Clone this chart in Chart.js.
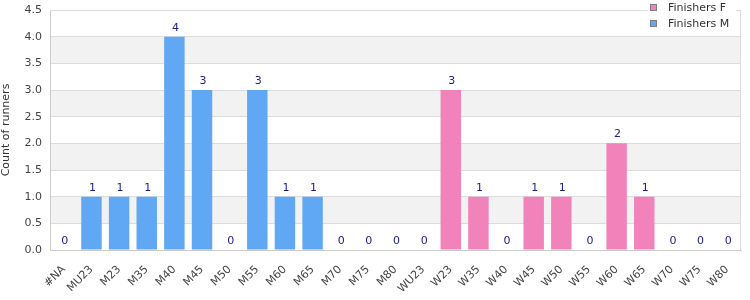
<!DOCTYPE html>
<html lang="en">
  <head>
    <meta charset="UTF-8" />
    <title>Finishers by category</title>
    <script src="https://cdn.jsdelivr.net/npm/chart.js@4"></script>
    <style>
      html, body {
        margin: 0;
        padding: 0;
        background: #fff;
      }
      #wrap {
        width: 750px;
        height: 300px;
      }
    </style>
  </head>
  <body>
    <div id="wrap">
      <canvas id="chart" width="750" height="300"></canvas>
    </div>

    <script>
      const categories = [
        "#NA", "MU23", "M23", "M35", "M40", "M45", "M50", "M55", "M60", "M65",
        "M70", "M75", "M80", "WU23", "W23", "W35", "W40", "W45", "W50", "W55",
        "W60", "W65", "W70", "W75", "W80",
      ];
      const finishersF = [
        0, 0, 0, 0, 0, 0, 0, 0, 0, 0,
        0, 0, 0, 0, 3, 1, 0, 1, 1, 0,
        2, 1, 0, 0, 0,
      ];
      const finishersM = [
        0, 1, 1, 1, 4, 3, 0, 3, 1, 1,
        0, 0, 0, 0, 0, 0, 0, 0, 0, 0,
        0, 0, 0, 0, 0,
      ];
      const yTicks = [0, 0.5, 1, 1.5, 2, 2.5, 3, 3.5, 4, 4.5];

      const pink = "#f282ba";
      const blue = "#60a8f3";
      const font = "'DejaVu Sans', Verdana, sans-serif";

      // grey bands between every other gridline, plus the plot frame
      const bands = {
        id: "bands",
        beforeDraw(chart) {
          const { ctx, chartArea: a, scales } = chart;
          const y = scales.y;
          ctx.save();
          ctx.fillStyle = "#f2f2f2";
          for (let v = 0.5; v < 4.5; v += 1) {
            const y1 = y.getPixelForValue(v + 0.5);
            const y0 = y.getPixelForValue(v);
            ctx.fillRect(a.left, y1, a.right - a.left, y0 - y1);
          }
          ctx.restore();
        },
        afterDraw(chart) {
          const { ctx, chartArea: a } = chart;
          ctx.save();
          ctx.lineWidth = 1;
          ctx.strokeStyle = "#dcdcdc";
          ctx.beginPath();
          ctx.moveTo(a.left, a.top + 0.5);
          ctx.lineTo(a.right, a.top + 0.5);
          ctx.moveTo(a.right - 0.5, a.top);
          ctx.lineTo(a.right - 0.5, a.bottom);
          ctx.stroke();

          // legend box top right
          const lx = 648;
          ctx.fillStyle = "#fff";
          ctx.fillRect(lx, 0, 88, 30);
          const items = [
            ["Finishers F", pink],
            ["Finishers M", blue],
          ];
          ctx.font = "11px " + font;
          ctx.textBaseline = "middle";
          items.forEach(([txt, col], i) => {
            const cy = 7 + i * 16;
            ctx.fillStyle = "#808080";
            ctx.fillRect(lx + 2, cy - 3, 7, 7);
            ctx.fillStyle = col;
            ctx.fillRect(lx + 3, cy - 2, 5, 5);
            ctx.fillStyle = "#333";
            ctx.fillText(txt, lx + 20, cy + 1);
          });
          ctx.restore();
        },
      };

      // total above each bar
      const totals = {
        id: "totals",
        afterDatasetsDraw(chart) {
          const { ctx, scales } = chart;
          ctx.save();
          ctx.font = "11px " + font;
          ctx.fillStyle = "#1c1c8c";
          ctx.textAlign = "center";
          ctx.textBaseline = "middle";
          categories.forEach((c, i) => {
            const t = finishersF[i] + finishersM[i];
            const x = scales.x.getPixelForValue(i);
            const y = scales.y.getPixelForValue(t) - 9;
            ctx.fillText(String(t), x + 1, y);
          });
          ctx.restore();
        },
      };

      const config = {
        type: "bar",
        data: {
          labels: categories,
          datasets: [
            {
              label: "Finishers F",
              data: finishersF,
              backgroundColor: pink,
              barPercentage: 0.74,
              categoryPercentage: 1,
            },
            {
              label: "Finishers M",
              data: finishersM,
              backgroundColor: blue,
              barPercentage: 0.74,
              categoryPercentage: 1,
            },
          ],
        },
        options: {
          responsive: false,
          animation: false,
          layout: {
            padding: { top: 10, right: 9, left: 0, bottom: 0 },
          },
          plugins: {
            legend: { display: false },
            tooltip: { enabled: false },
          },
          scales: {
            x: {
              stacked: true,
              grid: { display: false },
              border: { color: "#cccccc" },
              ticks: {
                minRotation: 45,
                maxRotation: 45,
                autoSkip: false,
                color: "#444",
                font: { family: font, size: 11 },
                padding: 5,
              },
              afterFit(scale) {
                scale.height = 50;
                scale.paddingLeft = 0;
                scale.paddingRight = 0;
              },
            },
            y: {
              stacked: true,
              min: 0,
              max: 4.5,
              afterBuildTicks(scale) {
                scale.ticks = yTicks.map((v) => ({ value: v }));
              },
              grid: { color: "#dcdcdc", drawTicks: false },
              border: { color: "#cccccc" },
              ticks: {
                color: "#444",
                font: { family: font, size: 11 },
                padding: 8,
                callback: (v) => Number(v).toFixed(1),
              },
              title: {
                display: true,
                text: "Count of runners",
                color: "#333",
                font: { family: font, size: 11 },
                padding: 0,
              },
              afterFit(scale) {
                scale.width = 50;
                scale.paddingTop = 0;
                scale.paddingBottom = 0;
              },
            },
          },
        },
        plugins: [bands, totals],
      };

      const chart = new Chart(document.getElementById("chart"), config);
    </script>
  </body>
</html>
